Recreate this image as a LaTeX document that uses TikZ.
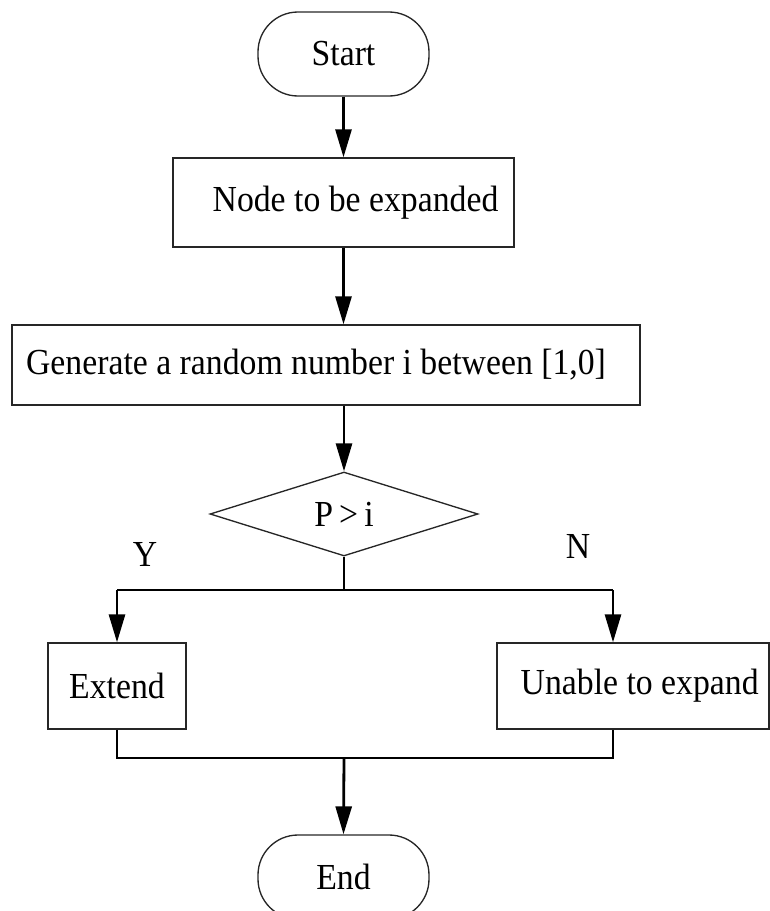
\documentclass[tikz,border=0pt]{standalone}
\usepackage{fontspec}
\setmainfont[FakeStretch=0.92]{Liberation Serif}
\usetikzlibrary{arrows.meta,shapes.geometric}
\begin{document}
\begin{tikzpicture}[x=0.75pt,y=-0.75pt,
 txt/.style={font=\fontsize{27.5}{32}\selectfont},
 box/.style={draw=black!85, line width=1pt, rectangle, inner sep=0pt, txt},
 term/.style={box, rounded corners=30pt},
 decision/.style={box, diamond, aspect=3.19},
 flow/.style={line width=2.1pt, -{Triangle[length=21pt,width=12pt]}},
 link/.style={line width=2.1pt},
 lbl/.style={txt, inner sep=0pt}]
\useasboundingbox (0,0) rectangle (770,911);

\node[term, minimum width=171*0.75pt, minimum height=84*0.75pt] (start) at (343.5,54) {Start};
\node[box, minimum width=341*0.75pt, minimum height=89*0.75pt] (n1) at (343.5,202.5) {\hspace*{18pt}Node to be expanded};
\node[box, minimum width=628*0.75pt, minimum height=80*0.75pt] (gen) at (326,365) {Generate a random number i between [1,0]\hspace*{15pt}};
\node[decision, minimum width=268*0.75pt, minimum height=84*0.75pt] (dia) at (344,514) {P\,>\,i};
\node[lbl] (y) at (145,554) {Y};
\node[lbl] (n) at (578,546) {N};
\node[box, minimum width=138*0.75pt, minimum height=86*0.75pt] (ext) at (117,686) {Extend};
\node[box, minimum width=272*0.75pt, minimum height=86*0.75pt] (una) at (633,686) {\hspace*{10pt}Unable to expand};
\node[term, minimum width=171*0.75pt, minimum height=84*0.75pt] (end) at (343.5,877) {End};

\coordinate (j1) at (344,590);
\coordinate (jl) at (117,590);
\coordinate (jr) at (613,590);
\coordinate (j2) at (344,758);
\coordinate (bl) at (117,758);
\coordinate (br) at (613,758);

\draw[flow] (start) -- (n1);
\draw[flow] (n1.south) -- (n1.south |- gen.north);
\draw[flow] (dia.north |- gen.south) -- (dia.north);
\draw[link] (dia.south) -- (j1);
\draw[link] (jl) -- (jr);
\draw[flow] (jl) -- (ext.north);
\draw[flow] (jr) -- (jr |- una.north);
\draw[link] (ext.south) -- (bl) -- (br) -- (br |- una.south);
\draw[flow] (j2) -- (end.north);
\end{tikzpicture}
\end{document}
